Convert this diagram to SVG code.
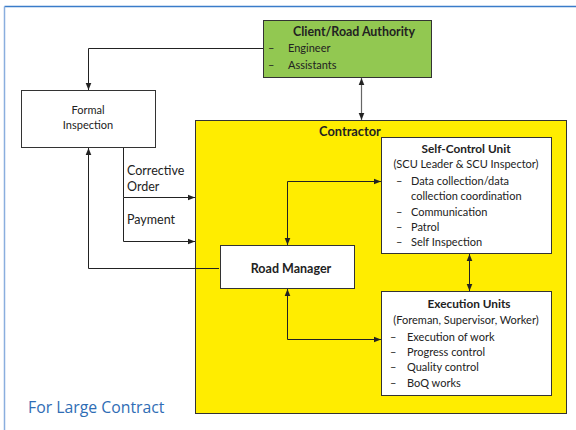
<svg xmlns="http://www.w3.org/2000/svg" width="576" height="430" viewBox="0 0 576 430">
<defs>
<marker id="ah" viewBox="0 0 10 10" refX="10" refY="5" markerWidth="7" markerHeight="7" markerUnits="userSpaceOnUse" orient="auto-start-reverse">
<path d="M0,1 L10,5 L0,9 z" fill="#222"/>
</marker>
<style>
text{font-family:Lato,"Open Sans","Liberation Sans",sans-serif;fill:#222;}
.t{font-size:11px;}
.b{font-size:11.8px;font-weight:bold;}
.m{font-size:12.5px;}
.box{stroke:#333;stroke-width:1;}
.ln{fill:none;stroke:#222;stroke-width:1;}
</style>
</defs>
<rect x="0" y="0" width="576" height="430" fill="#fff"/>
<line x1="4.5" y1="6.5" x2="576" y2="6.5" stroke="#3a7cc9" stroke-width="1.5"/>
<line x1="4.5" y1="6.5" x2="4.5" y2="430" stroke="#8aaede" stroke-width="1.5"/>
<g id="contractor">
<rect class="box" x="195.5" y="120.5" width="371" height="293" fill="#ffed00"/>
<text x="350" y="136" text-anchor="middle" style="font-size:12.8px;font-weight:bold">Contractor</text>
</g>
<g id="client">
<rect class="box" x="263.5" y="20.5" width="168" height="57" fill="#92c851"/>
<text x="354" y="36" text-anchor="middle" style="font-size:12.4px;font-weight:bold">Client/Road Authority</text>
<text class="t" x="268" y="52">–</text><text class="t" x="288" y="52">Engineer</text>
<text class="t" x="268" y="69">–</text><text class="t" x="288" y="69">Assistants</text>
</g>
<g id="formal">
<rect class="box" x="21.5" y="90.5" width="134" height="57" fill="#fff"/>
<text class="t" x="88" y="114" text-anchor="middle">Formal</text>
<text class="t" x="88" y="129" text-anchor="middle">Inspection</text>
</g>
<g id="scu">
<rect class="box" x="381.5" y="137.5" width="170" height="116" fill="#fff"/>
<text class="b" x="466" y="153" text-anchor="middle">Self-Control Unit</text>
<text class="t" x="466" y="168" text-anchor="middle">(SCU Leader &amp; SCU Inspector)</text>
<text class="t" x="396" y="185">–</text><text class="t" x="411" y="185">Data collection/data</text>
<text class="t" x="411" y="200">collection coordination</text>
<text class="t" x="396" y="216">–</text><text class="t" x="411" y="216">Communication</text>
<text class="t" x="396" y="231">–</text><text class="t" x="411" y="231">Patrol</text>
<text class="t" x="396" y="246">–</text><text class="t" x="411" y="246">Self Inspection</text>
</g>
<g id="roadmanager">
<rect class="box" x="220.5" y="245.5" width="134" height="43" fill="#fff"/>
<text x="291" y="273" text-anchor="middle" style="font-size:12.5px;font-weight:bold">Road Manager</text>
</g>
<g id="exec">
<rect class="box" x="381.5" y="291.5" width="170" height="104" fill="#fff"/>
<text class="b" x="469" y="308" text-anchor="middle">Execution Units</text>
<text class="t" x="466" y="324" text-anchor="middle">(Foreman, Supervisor, Worker)</text>
<text class="t" x="390" y="341">–</text><text class="t" x="407" y="341">Execution of work</text>
<text class="t" x="390" y="356">–</text><text class="t" x="407" y="356">Progress control</text>
<text class="t" x="390" y="371">–</text><text class="t" x="407" y="371">Quality control</text>
<text class="t" x="390" y="387">–</text><text class="t" x="407" y="387">BoQ works</text>
</g>
<g id="connectors">
<polyline class="ln" points="263,48.5 88.5,48.5 88.5,90" marker-end="url(#ah)"/>
<line x1="361.5" y1="78" x2="361.5" y2="120" stroke="#666" stroke-width="1.2" marker-start="url(#ah)" marker-end="url(#ah)"/>
<polyline class="ln" points="219,268.5 88.5,268.5 88.5,148" marker-end="url(#ah)"/>
<polyline class="ln" points="123.5,148 123.5,197.5 195,197.5" marker-end="url(#ah)"/>
<polyline class="ln" points="123.5,197.5 123.5,241.5 195,241.5" marker-end="url(#ah)"/>
<polyline class="ln" points="287.5,245 287.5,181.5 381,181.5" marker-start="url(#ah)" marker-end="url(#ah)"/>
<polyline class="ln" points="287.5,289 287.5,339.5 381,339.5" marker-start="url(#ah)" marker-end="url(#ah)"/>
<line class="ln" x1="469.5" y1="254" x2="469.5" y2="291" marker-start="url(#ah)" marker-end="url(#ah)"/>
<text class="m" x="127" y="175">Corrective</text>
<text class="m" x="127" y="191">Order</text>
<text class="m" x="127" y="224">Payment</text>
</g>
<text x="28" y="413" style="font-family:'Open Sans','Liberation Sans',sans-serif;font-size:15.8px;fill:#2f6db5">For Large Contract</text>
</svg>
